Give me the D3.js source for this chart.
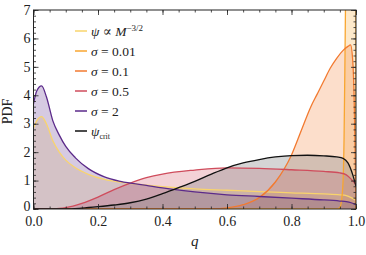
<!DOCTYPE html>
<html>
<head>
<meta charset="utf-8">
<script src="https://cdn.jsdelivr.net/npm/d3@7"></script>
<style>
  body { margin: 0; background: #fff; }
  svg { display: block; font-family: "Liberation Serif", "DejaVu Serif", serif; }
</style>
</head>
<body>
<svg id="chart" width="366" height="255"></svg>
<script>
// values
const q_psiM = [0, 0.01, 0.025, 0.04, 0.06, 0.08, 0.1, 0.13, 0.17, 0.22, 0.28, 0.35, 0.4, 0.5, 0.6, 0.7, 0.8, 0.9, 0.95, 0.97, 0.985, 1.0];
const v_psiM = [2.85, 3.1, 3.25, 3.0, 2.4, 2.0, 1.72, 1.45, 1.22, 1.04, 0.93, 0.84, 0.79, 0.71, 0.66, 0.61, 0.57, 0.53, 0.5, 0.47, 0.4, 0.3];

const q_s001 = [0, 0.94, 0.95, 0.955, 0.96, 0.963, 0.966, 0.969, 0.975, 0.99, 0.999, 1.0];
const v_s001 = [0, 0, 0.05, 0.3, 1.0, 2.5, 5.5, 9, 15, 25, 30, 0];

const q_s01 = [0, 0.5, 0.55, 0.6, 0.65, 0.7, 0.75, 0.8, 0.83, 0.86, 0.88, 0.9, 0.92, 0.94, 0.96, 0.975, 0.983, 0.99, 0.995, 0.998, 1.0];
const v_s01 = [0, 0, 0.005, 0.04, 0.15, 0.4, 0.95, 1.9, 2.75, 3.6, 4.05, 4.5, 4.95, 5.3, 5.58, 5.72, 5.77, 5.2, 3.5, 1.5, 0];

const q_s05 = [0, 0.05, 0.08, 0.1, 0.15, 0.2, 0.25, 0.3, 0.35, 0.4, 0.5, 0.6, 0.7, 0.8, 0.9, 0.95, 0.97, 0.985, 1.0];
const v_s05 = [0, 0, 0.02, 0.05, 0.2, 0.42, 0.68, 0.91, 1.1, 1.23, 1.37, 1.45, 1.43, 1.38, 1.32, 1.27, 1.2, 1.05, 0.85];

const q_s2 = [0, 0.01, 0.025, 0.04, 0.06, 0.08, 0.1, 0.13, 0.17, 0.22, 0.27, 0.35, 0.4, 0.5, 0.6, 0.7, 0.8, 0.9, 0.95, 0.97, 0.985, 1.0];
const v_s2 = [3.7, 4.15, 4.33, 3.95, 3.1, 2.6, 2.2, 1.8, 1.42, 1.13, 0.97, 0.83, 0.74, 0.6, 0.5, 0.44, 0.38, 0.32, 0.28, 0.26, 0.22, 0.15];

const q_crit = [0, 0.1, 0.15, 0.2, 0.25, 0.3, 0.35, 0.4, 0.45, 0.5, 0.55, 0.6, 0.65, 0.7, 0.75, 0.8, 0.85, 0.9, 0.94, 0.96, 0.975, 0.99, 1.0];
const v_crit = [0, 0, 0.03, 0.08, 0.14, 0.22, 0.35, 0.54, 0.75, 0.97, 1.22, 1.45, 1.62, 1.74, 1.83, 1.88, 1.89, 1.87, 1.83, 1.78, 1.62, 1.2, 0.8];

const xTicks = [0, 0.2, 0.4, 0.6, 0.8, 1.0];
const yTicks = [0, 1, 2, 3, 4, 5, 6, 7];

const series = [
  {q: q_psiM, v: v_psiM, color: '#f9d46c', label: 'psiM'},
  {q: q_s001, v: v_s001, color: '#f8a630', label: '0.01'},
  {q: q_s01,  v: v_s01,  color: '#f27a30', label: '0.1'},
  {q: q_s05,  v: v_s05,  color: '#cf4c5c', label: '0.5'},
  {q: q_s2,   v: v_s2,   color: '#5b2a8a', label: '2'},
  {q: q_crit, v: v_crit, color: '#111111', label: 'crit'},
];

const svg = d3.select('#chart');
const pLeft = 33.5, pRight = 356, pTop = 10, pBottom = 209;

const x = d3.scaleLinear().domain([0, 1]).range([pLeft, pRight]);
const y = d3.scaleLinear().domain([0, 7]).range([pBottom, pTop]);

svg.append('clipPath').attr('id', 'clip')
  .append('rect')
  .attr('x', pLeft).attr('y', pTop)
  .attr('width', pRight - pLeft).attr('height', pBottom - pTop);

const plot = svg.append('g').attr('clip-path', 'url(#clip)');

const area = d3.area()
  .x(d => x(d[0])).y0(y(0)).y1(d => y(d[1]))
  .curve(d3.curveMonotoneX);
const line = d3.line()
  .x(d => x(d[0])).y(d => y(d[1]))
  .curve(d3.curveMonotoneX);

series.forEach(s => { s.pts = s.q.map((q, i) => [q, s.v[i]]); });

// fills first, lines on top
plot.selectAll('path.fill')
  .data(series)
  .enter().append('path')
  .attr('class', 'fill')
  .attr('d', s => area(s.pts))
  .style('fill', s => s.label == 'crit' ? '#888' : s.color)
  .style('fill-opacity', s => s.label == 'crit' ? 0.35 : 0.25)
  .style('stroke', 'none');

plot.selectAll('path.line')
  .data(series)
  .enter().append('path')
  .attr('class', 'line')
  .attr('d', s => line(s.pts))
  .style('fill', 'none')
  .style('stroke', s => s.color)
  .style('stroke-width', 1.3);

// frame with inward ticks on all sides
function addAxis(axis, tr) {
  const g = svg.append('g').attr('transform', tr).call(axis);
  g.attr('font-family', null);
  g.select('.domain').remove();
  g.selectAll('.tick line').style('stroke', '#222').style('stroke-width', 0.8);
  g.selectAll('.tick text').style('font-family', '"Liberation Serif", serif')
    .style('font-size', '14px').style('fill', '#222');
  return g;
}

const xMinor = d3.range(0, 1.0001, 0.05);
const yMinor = d3.range(0, 7.0001, 0.2);

addAxis(d3.axisBottom(x).tickValues(xMinor).tickSize(-2.5).tickFormat(''), `translate(0,${pBottom})`);
addAxis(d3.axisBottom(x).tickValues(xTicks).tickSize(-5).tickPadding(7).tickFormat(d3.format('.1f')), `translate(0,${pBottom})`);
addAxis(d3.axisTop(x).tickValues(xMinor).tickSize(-2.5).tickFormat(''), `translate(0,${pTop})`);
addAxis(d3.axisTop(x).tickValues(xTicks).tickSize(-5).tickFormat(''), `translate(0,${pTop})`);
addAxis(d3.axisLeft(y).tickValues(yMinor).tickSize(-2.5).tickFormat(''), `translate(${pLeft},0)`);
const yAx = addAxis(d3.axisLeft(y).tickValues(yTicks).tickSize(-5).tickPadding(3).tickFormat(d3.format('d')), `translate(${pLeft},0)`);
yAx.selectAll('.tick text').attr('dy', d => d == 0 ? '0.08em' : '0.3em');
addAxis(d3.axisRight(y).tickValues(yMinor).tickSize(-2.5).tickFormat(''), `translate(${pRight},0)`);
addAxis(d3.axisRight(y).tickValues(yTicks).tickSize(-5).tickFormat(''), `translate(${pRight},0)`);

svg.append('rect')
  .attr('x', pLeft).attr('y', pTop)
  .attr('width', pRight - pLeft).attr('height', pBottom - pTop)
  .style('fill', 'none').style('stroke', '#222').style('stroke-width', 1);

// axis labels
svg.append('text')
  .attr('transform', `translate(12,${(pTop + pBottom) / 2 + 2}) rotate(-90)`)
  .attr('text-anchor', 'middle')
  .style('font-size', '14px').style('fill', '#222')
  .text('PDF');

svg.append('text')
  .attr('x', (pLeft + pRight) / 2).attr('y', 246)
  .attr('text-anchor', 'middle')
  .style('font-size', '15px').style('font-style', 'italic').style('fill', '#222')
  .text('q');

// legend
const legend = svg.append('g');
series.forEach((s, i) => {
  const yy = 31 + i * 20;
  legend.append('line')
    .attr('x1', 75).attr('x2', 87).attr('y1', yy).attr('y2', yy)
    .style('stroke', s.color).style('stroke-width', 1.5);
  const t = legend.append('text')
    .attr('x', 91).attr('y', yy + 4.5)
    .style('font-size', '13.5px').style('fill', '#222');
  if (s.label == 'psiM') {
    t.append('tspan').style('font-style', 'italic').text('ψ');
    t.append('tspan').text(' ∝ ');
    t.append('tspan').style('font-style', 'italic').text('M');
    t.append('tspan').attr('dy', -5).style('font-size', '9px').text('−3/2');
  } else if (s.label == 'crit') {
    t.append('tspan').style('font-style', 'italic').text('ψ');
    t.append('tspan').attr('dy', 3).style('font-size', '8px').text('crit');
  } else {
    t.append('tspan').style('font-style', 'italic').text('σ');
    t.append('tspan').text(' = ' + s.label);
  }
});
</script>
</body>
</html>
